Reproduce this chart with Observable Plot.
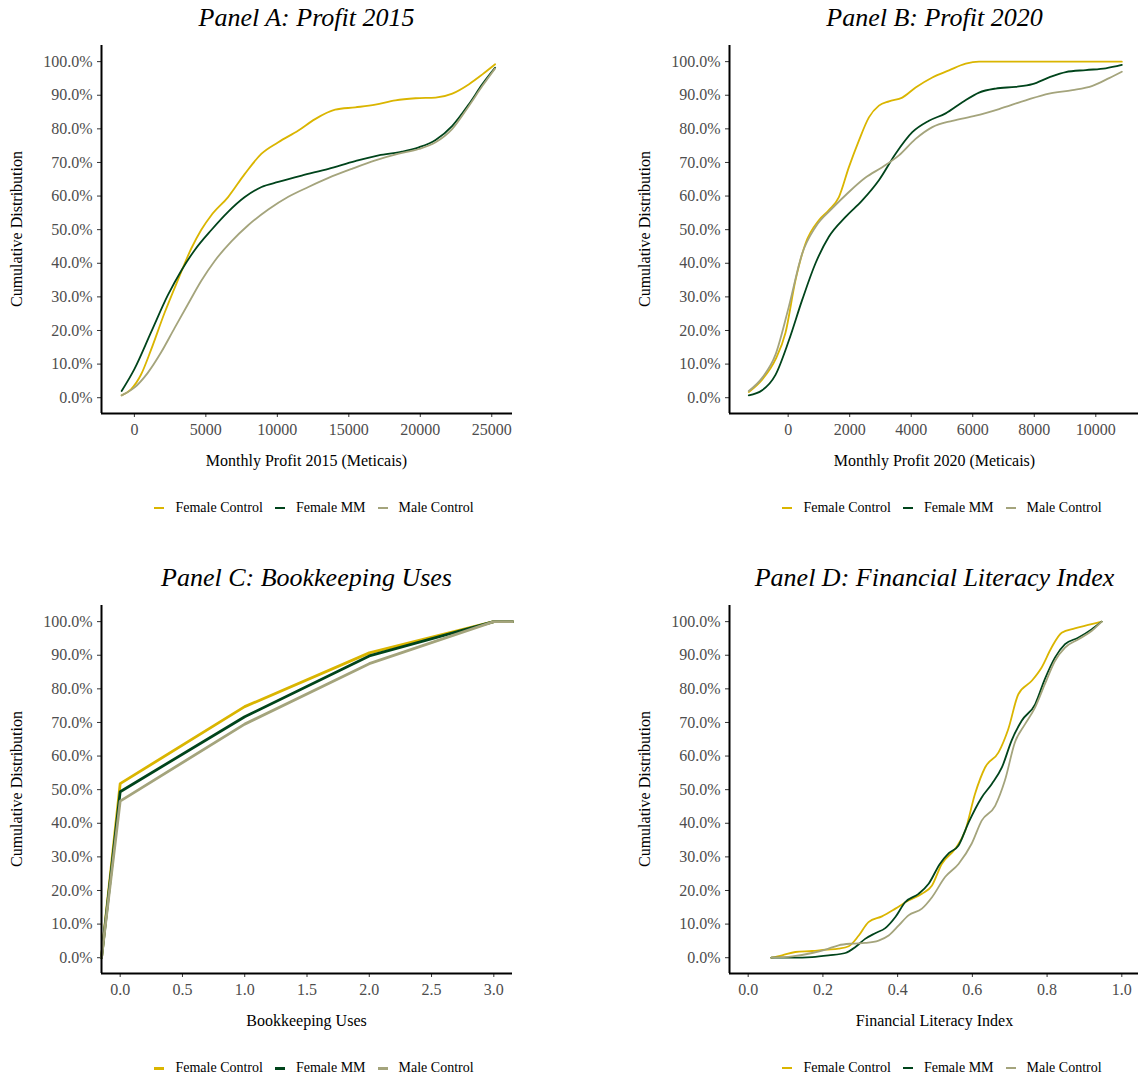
<!DOCTYPE html>
<html>
<head>
<meta charset="utf-8">
<script src="https://cdn.jsdelivr.net/npm/d3@7"></script>
<script src="https://cdn.jsdelivr.net/npm/@observablehq/plot@0.6"></script>
<style>
  body { margin: 0; background: #fff; }
  #fig { position: relative; width: 1138px; height: 1080px; overflow: hidden; background: #fff;
         font-family: "Liberation Serif", "Times New Roman", serif; color: #000; }
  #fig svg, #fig svg text { font-family: "Liberation Serif", "Times New Roman", serif !important; font-size: 16px !important; }
  .panel { position: absolute; width: 628px; height: 540px; }
  .ptitle { position: absolute; left: 101px; width: 411px; top: 2px; text-align: center; font-style: italic;
            font-size: 26px; line-height: 32px; white-space: nowrap; }
  .xtitle { position: absolute; left: 101px; width: 411px; top: 451px; text-align: center; font-size: 16px; line-height: 20px; white-space: nowrap; }
  .ytitle { position: absolute; left: -167px; top: 219px; width: 368px; height: 20px; line-height: 20px; text-align: center;
            font-size: 16px; transform: rotate(-90deg); white-space: nowrap; }
  .plotbox { position: absolute; left: 0; top: 40px; }
  .legend { position: absolute; left: 0; width: 628px; top: 498px; height: 20px; display: flex; justify-content: center;
            align-items: center; gap: 12px; font-size: 14px; white-space: nowrap; }
  .legend .item { display: flex; align-items: center; }
  .legend .key { display: inline-block; width: 10px; margin-right: 11px; }
  svg g[aria-label="x-axis tick label"], svg g[aria-label="y-axis tick label"] { fill: #4d4d4d; }
  svg g[aria-label="x-axis tick"], svg g[aria-label="y-axis tick"] { stroke: #333; }
</style>
</head>
<body>
<div id="fig"></div>
<script>
// ---------- shared ----------
const groups = ["Female Control", "Female MM", "Male Control"];
const colors = ["#DAB500", "#00441B", "#A4A47C"];
const yTicks = [0, 0.1, 0.2, 0.3, 0.4, 0.5, 0.6, 0.7, 0.8, 0.9, 1.0];
const yDomain = [-0.047, 1.048];
const yAxisTitle = "Cumulative Distribution";
const serif = '"Liberation Serif", "Times New Roman", serif';

// ---------- Panel A: Profit 2015 ----------
const aTitle = "Panel A: Profit 2015";
const aXTitle = "Monthly Profit 2015 (Meticais)";
const aXTicks = [0, 5000, 10000, 15000, 20000, 25000];
const aXDomain = [-2300, 26450];
const aFemaleControlX = [-890, -234, 468, 1170, 2107, 3043, 3980, 4682, 5384, 6555, 7725, 8896, 10066, 11471, 12641, 14046, 15451, 16855, 18260, 19664, 21069, 22240, 23410, 24346, 25236];
const aFemaleControlY = [0.007, 0.025, 0.069, 0.143, 0.252, 0.350, 0.444, 0.500, 0.543, 0.597, 0.666, 0.726, 0.760, 0.795, 0.829, 0.857, 0.864, 0.872, 0.885, 0.891, 0.893, 0.905, 0.933, 0.962, 0.992];
const aFemaleMMX = [-890, 0, 1170, 2341, 3278, 4214, 5384, 6555, 7725, 8896, 10066, 11705, 13578, 15451, 17089, 18728, 19898, 21069, 22240, 23410, 24346, 25236];
const aFemaleMMY = [0.020, 0.085, 0.195, 0.305, 0.378, 0.439, 0.499, 0.553, 0.597, 0.627, 0.642, 0.661, 0.681, 0.704, 0.721, 0.732, 0.745, 0.767, 0.809, 0.874, 0.933, 0.982];
const aMaleControlX = [-890, 0, 936, 1873, 2809, 3746, 4682, 5618, 6789, 7959, 9364, 10768, 12173, 13578, 15217, 16855, 18494, 19898, 21069, 22240, 23410, 24346, 25236];
const aMaleControlY = [0.007, 0.030, 0.074, 0.135, 0.207, 0.278, 0.348, 0.407, 0.465, 0.513, 0.560, 0.598, 0.627, 0.654, 0.681, 0.706, 0.726, 0.740, 0.760, 0.800, 0.869, 0.928, 0.980];

// ---------- Panel B: Profit 2020 ----------
const bTitle = "Panel B: Profit 2020";
const bXTitle = "Monthly Profit 2020 (Meticais)";
const bXTicks = [0, 2000, 4000, 6000, 8000, 10000];
const bXDomain = [-1907, 11453];
const bFemaleControlX = [-1280, -846, -412, -87, 239, 564, 998, 1323, 1649, 1974, 2299, 2625, 2950, 3276, 3709, 4143, 4686, 5228, 5770, 6204, 7180, 8807, 10846];
const bFemaleControlY = [0.017, 0.054, 0.114, 0.193, 0.350, 0.459, 0.528, 0.558, 0.597, 0.686, 0.765, 0.834, 0.869, 0.882, 0.893, 0.923, 0.953, 0.974, 0.994, 1.0, 1.0, 1.0, 1.0];
const bFemaleMMX = [-1280, -846, -412, 22, 456, 889, 1323, 1866, 2408, 2950, 3492, 4035, 4577, 5119, 5662, 6204, 6746, 7397, 7939, 8481, 9024, 9675, 10326, 10846];
const bFemaleMMY = [0.007, 0.022, 0.068, 0.170, 0.291, 0.400, 0.479, 0.538, 0.587, 0.647, 0.726, 0.790, 0.824, 0.846, 0.879, 0.908, 0.920, 0.925, 0.933, 0.953, 0.969, 0.975, 0.980, 0.990];
const bMaleControlX = [-1280, -846, -412, 22, 456, 889, 1432, 1974, 2516, 3059, 3601, 4143, 4686, 5336, 6095, 6855, 7722, 8481, 9241, 9892, 10434, 10846];
const bMaleControlY = [0.020, 0.059, 0.128, 0.271, 0.429, 0.508, 0.563, 0.612, 0.655, 0.686, 0.721, 0.770, 0.805, 0.824, 0.839, 0.859, 0.885, 0.905, 0.915, 0.928, 0.951, 0.970];

// ---------- Panel C: Bookkeeping Uses ----------
const cTitle = "Panel C: Bookkeeping Uses";
const cXTitle = "Bookkeeping Uses";
const cXTicks = [0, 0.5, 1, 1.5, 2, 2.5, 3];
const cXDomain = [-0.15, 3.15];
const cX = [-0.15, 0, 1, 2, 3, 3.15];   // ends are the ECDF padding (-Inf / Inf)
const cFemaleControlY = [0, 0.518, 0.747, 0.907, 1, 1];
const cFemaleMMY = [0, 0.494, 0.717, 0.898, 1, 1];
const cMaleControlY = [0, 0.466, 0.695, 0.875, 1, 1];

// ---------- Panel D: Financial Literacy Index ----------
const dTitle = "Panel D: Financial Literacy Index";
const dXTitle = "Financial Literacy Index";
const dXTicks = [0, 0.2, 0.4, 0.6, 0.8, 1.0];
const dXDomain = [-0.05, 1.05];
const dFemaleControlX = [0.062, 0.091, 0.126, 0.171, 0.207, 0.242, 0.269, 0.296, 0.322, 0.358, 0.394, 0.429, 0.465, 0.492, 0.518, 0.554, 0.581, 0.607, 0.634, 0.670, 0.696, 0.723, 0.759, 0.785, 0.812, 0.839, 0.874, 0.910, 0.946];
const dFemaleControlY = [0.0, 0.007, 0.017, 0.020, 0.024, 0.027, 0.034, 0.066, 0.106, 0.123, 0.146, 0.170, 0.190, 0.215, 0.279, 0.324, 0.378, 0.487, 0.566, 0.611, 0.680, 0.784, 0.824, 0.863, 0.923, 0.967, 0.980, 0.990, 1.0];
const dFemaleMMX = [0.062, 0.118, 0.171, 0.215, 0.260, 0.287, 0.313, 0.340, 0.367, 0.394, 0.420, 0.456, 0.483, 0.513, 0.537, 0.563, 0.590, 0.625, 0.652, 0.679, 0.705, 0.732, 0.768, 0.794, 0.821, 0.848, 0.883, 0.919, 0.946];
const dFemaleMMY = [0.0, 0.0, 0.002, 0.007, 0.014, 0.032, 0.056, 0.073, 0.088, 0.121, 0.165, 0.190, 0.220, 0.279, 0.311, 0.334, 0.403, 0.477, 0.517, 0.566, 0.646, 0.705, 0.754, 0.829, 0.893, 0.933, 0.952, 0.977, 1.0];
const dMaleControlX = [0.062, 0.118, 0.171, 0.207, 0.242, 0.278, 0.313, 0.349, 0.376, 0.403, 0.429, 0.465, 0.492, 0.527, 0.563, 0.598, 0.625, 0.661, 0.687, 0.714, 0.741, 0.768, 0.794, 0.821, 0.848, 0.883, 0.919, 0.946];
const dMaleControlY = [0.0, 0.004, 0.014, 0.024, 0.037, 0.042, 0.044, 0.051, 0.066, 0.096, 0.126, 0.146, 0.180, 0.240, 0.279, 0.339, 0.408, 0.452, 0.527, 0.641, 0.695, 0.745, 0.814, 0.883, 0.923, 0.947, 0.972, 1.0];

// ---------- build ----------
function rows(series) {
  const out = [];
  series.forEach(([g, xs, ys]) => xs.forEach((x, i) => out.push({group: g, x, y: ys[i]})));
  return out;
}
const pct = d => (d * 100).toFixed(1) + "%";

const panels = [
  {left: 0, top: 0, title: aTitle, xTitle: aXTitle, xTicks: aXTicks, xDomain: aXDomain, fmt: d => String(d),
   curve: "monotone-x", sw: 1.8, keyH: 2,
   data: rows([["Female Control", aFemaleControlX, aFemaleControlY], ["Female MM", aFemaleMMX, aFemaleMMY], ["Male Control", aMaleControlX, aMaleControlY]])},
  {left: 628, top: 0, title: bTitle, xTitle: bXTitle, xTicks: bXTicks, xDomain: bXDomain, fmt: d => String(d),
   curve: "monotone-x", sw: 1.8, keyH: 2,
   data: rows([["Female Control", bFemaleControlX, bFemaleControlY], ["Female MM", bFemaleMMX, bFemaleMMY], ["Male Control", bMaleControlX, bMaleControlY]])},
  {left: 0, top: 560, title: cTitle, xTitle: cXTitle, xTicks: cXTicks, xDomain: cXDomain, fmt: d => d.toFixed(1),
   curve: "linear", sw: 2.8, keyH: 3,
   data: rows([["Female Control", cX, cFemaleControlY], ["Female MM", cX, cFemaleMMY], ["Male Control", cX, cMaleControlY]])},
  {left: 628, top: 560, title: dTitle, xTitle: dXTitle, xTicks: dXTicks, xDomain: dXDomain, fmt: d => d.toFixed(1),
   curve: "monotone-x", sw: 1.8, keyH: 2,
   data: rows([["Female Control", dFemaleControlX, dFemaleControlY], ["Female MM", dFemaleMMX, dFemaleMMY], ["Male Control", dMaleControlX, dMaleControlY]])}
];

const fig = document.getElementById("fig");
for (const p of panels) {
  const div = document.createElement("div");
  div.className = "panel";
  div.style.left = p.left + "px";
  div.style.top = p.top + "px";

  const t = document.createElement("div"); t.className = "ptitle"; t.textContent = p.title; div.appendChild(t);

  const chart = Plot.plot({
    width: 628, height: 410,
    marginTop: 5, marginBottom: 37, marginLeft: 101, marginRight: 116,
    style: "background: transparent; overflow: visible; font-family: 'Liberation Serif', 'Times New Roman', serif; font-size: 16px;",
    x: {domain: p.xDomain},
    y: {domain: yDomain},
    color: {domain: groups, range: colors},
    marks: [
      Plot.axisY({ticks: yTicks, tickFormat: pct, tickSize: 4, tickPadding: 5, label: null, fill: "#4d4d4d", stroke: "#333", fontFamily: serif}),
      Plot.axisX({ticks: p.xTicks, tickFormat: p.fmt, tickSize: 4, tickPadding: 6, label: null, fill: "#4d4d4d", stroke: "#333", fontFamily: serif}),
      Plot.line(p.data, {x: "x", y: "y", z: "group", stroke: "group", curve: p.curve, strokeWidth: p.sw}),
      Plot.ruleX([p.xDomain[0]], {stroke: "#000", strokeWidth: 2}),
      Plot.ruleY([yDomain[0]], {stroke: "#000", strokeWidth: 2})
    ]
  });
  d3.select(chart).selectAll("g, text").style("font-family", serif);
  const box = document.createElement("div"); box.className = "plotbox"; box.appendChild(chart); div.appendChild(box);

  const xt = document.createElement("div"); xt.className = "xtitle"; xt.textContent = p.xTitle; div.appendChild(xt);
  const yt = document.createElement("div"); yt.className = "ytitle"; yt.textContent = yAxisTitle; div.appendChild(yt);

  const lg = document.createElement("div"); lg.className = "legend";
  groups.forEach((g, i) => {
    const it = document.createElement("div"); it.className = "item";
    const k = document.createElement("span"); k.className = "key";
    k.style.height = p.keyH + "px"; k.style.background = colors[i];
    const s = document.createElement("span"); s.textContent = g;
    it.appendChild(k); it.appendChild(s); lg.appendChild(it);
  });
  div.appendChild(lg);
  fig.appendChild(div);
}
</script>
</body>
</html>
